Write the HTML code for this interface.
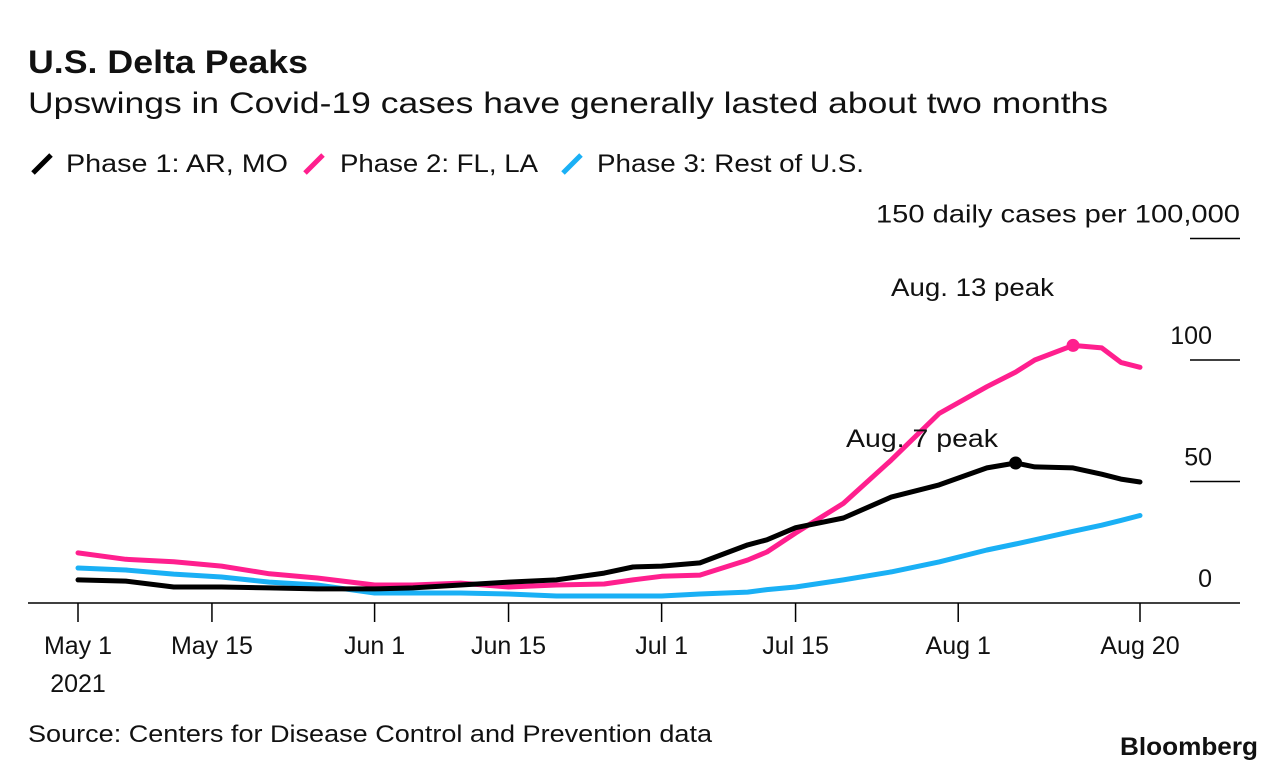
<!DOCTYPE html>
<html><head><meta charset="utf-8">
<style>
body{margin:0;background:#fff;font-family:"Liberation Sans",sans-serif;}
svg{display:block}
text{font-family:"Liberation Sans",sans-serif;fill:#111}
</style></head><body>
<svg width="1286" height="772" xmlns="http://www.w3.org/2000/svg" id="chart">
<text x="28" y="73" font-size="32" font-weight="bold" textLength="280" lengthAdjust="spacingAndGlyphs">U.S. Delta Peaks</text>
<text x="28" y="113" font-size="30" textLength="1080" lengthAdjust="spacingAndGlyphs">Upswings in Covid-19 cases have generally lasted about two months</text>
<g>
<line x1="33" y1="173" x2="51" y2="155" stroke="#000" stroke-width="5"/>
<text x="66" y="172" font-size="25" textLength="222" lengthAdjust="spacingAndGlyphs">Phase 1: AR, MO</text>
<line x1="305" y1="173" x2="323" y2="155" stroke="#ff1f8e" stroke-width="5"/>
<text x="340" y="172" font-size="25" textLength="198" lengthAdjust="spacingAndGlyphs">Phase 2: FL, LA</text>
<line x1="563" y1="173" x2="581" y2="155" stroke="#1ab0f5" stroke-width="5"/>
<text x="597" y="172" font-size="25" textLength="267" lengthAdjust="spacingAndGlyphs">Phase 3: Rest of U.S.</text>
</g>
<g id="yaxis"></g>
<g id="xaxis"></g>
<g id="series"></g>
<text x="891" y="296" font-size="25" textLength="163" lengthAdjust="spacingAndGlyphs">Aug. 13 peak</text>
<text x="846" y="447" font-size="25" textLength="152" lengthAdjust="spacingAndGlyphs">Aug. 7 peak</text>
<text x="28" y="742" font-size="24" textLength="684" lengthAdjust="spacingAndGlyphs">Source: Centers for Disease Control and Prevention data</text>
<text x="1120" y="755" font-size="25" font-weight="bold" textLength="138" lengthAdjust="spacingAndGlyphs">Bloomberg</text>
</svg>
<script>
const days = [0,5,10,15,20,25,31,35,40,45,50,55,58,61,65,70,72,75,80,85,90,95,98,100,104,107,109,111];
const phase1 = [9.5,9,6.6,6.6,6.2,5.8,5.8,6.2,7.4,8.6,9.5,12.3,14.8,15.2,16.5,23.9,26,31,35,43.6,48.6,55.6,57.6,56,55.6,53,51,49.8];
const phase2 = [20.6,18,17,15.2,12,10.3,7.4,7.4,8.2,6.6,7.4,7.8,9.5,11,11.5,17.7,21,28.8,41,58.8,78,89,95,100,106,105,99,97];
const phase3 = [14.4,13.6,11.9,10.7,8.6,7.4,4.1,4.1,4.1,3.7,2.9,2.9,2.9,2.9,3.7,4.5,5.5,6.6,9.5,12.8,16.9,21.8,24.3,26,29.5,32,34,36];
const peakDays = [98,104];
const peakValues = [57.6,106];
const yTicks = [0,50,100,150];
const xTickDays = [0,14,31,45,61,75,92,111];
const xTickLabels = ["May 1","May 15","Jun 1","Jun 15","Jul 1","Jul 15","Aug 1","Aug 20"];

const NS="http://www.w3.org/2000/svg";
const x = d => 78 + d*(1140-78)/111;
const y = v => 603 - v*2.43;
function mk(tag, attrs, parent){const e=document.createElementNS(NS,tag);for(const k in attrs)e.setAttribute(k,attrs[k]);parent.appendChild(e);return e;}
const ya=document.getElementById('yaxis'), xa=document.getElementById('xaxis'), sg=document.getElementById('series');

yTicks.forEach(t=>{
  if(t>0){const l=mk('line',{x1:1190,x2:1240,y1:y(t),y2:y(t),stroke:'#000','stroke-width':1.5},ya);
  
  }
  const tx=mk('text',{x:1240,y:y(t)-16,'font-size':25,'text-anchor':'end'},ya);
  tx.textContent = t===150 ? '150 daily cases per 100,000' : String(t);
  if(t===150){tx.setAttribute('textLength',364);tx.setAttribute('lengthAdjust','spacingAndGlyphs');}
  else {tx.setAttribute('x',1212);}
  
  
});
const base=mk('line',{x1:28,x2:1240,y1:603,y2:603,stroke:'#000','stroke-width':1.5},xa);


xTickDays.forEach((d,i)=>{
  const tk=mk('line',{x1:x(d),x2:x(d),y1:603,y2:622,stroke:'#000','stroke-width':1.5},xa);
  
  
  const tx=mk('text',{x:x(d),y:654,'font-size':25,'text-anchor':'middle'},xa);
  tx.textContent=xTickLabels[i];
  
  
});
const yr=mk('text',{x:x(0),y:692,'font-size':25,'text-anchor':'middle'},xa);
yr.textContent='2021';



function line(vals,color,name){
  const p=mk('path',{d:vals.map((v,i)=>(i?'L':'M')+x(days[i]).toFixed(1)+','+y(v).toFixed(1)).join(''),fill:'none',stroke:color,'stroke-width':5,'stroke-linejoin':'round','stroke-linecap':'round'},sg);
  
  
}
line(phase3,'#1ab0f5','line-phase-3');
line(phase2,'#ff1f8e','line-phase-2');
line(phase1,'#000000','line-phase-1');
const c1=mk('circle',{cx:x(peakDays[0]),cy:y(peakValues[0]),r:6.5,fill:'#000'},sg);


const c2=mk('circle',{cx:x(peakDays[1]),cy:y(peakValues[1]),r:6.5,fill:'#ff1f8e'},sg);


</script>
</body></html>
